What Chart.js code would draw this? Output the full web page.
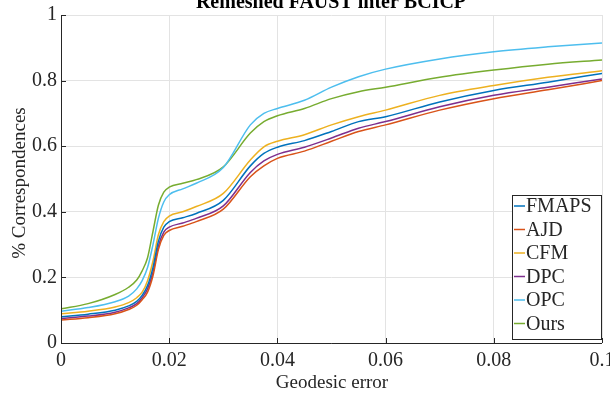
<!DOCTYPE html>
<html>
<head>
<meta charset="utf-8">
<script src="https://cdn.jsdelivr.net/npm/chart.js@4.4.1/dist/chart.umd.min.js"></script>
<style>
  body { margin: 0; background: #fff; }
  canvas { display: block; }
</style>
</head>
<body>
<canvas id="corrChart" width="610" height="394"></canvas>
<script>
const xValues = [0, 0.005, 0.01, 0.0125, 0.014, 0.015, 0.016, 0.017, 0.018, 0.019, 0.02, 0.0225, 0.025, 0.03, 0.035, 0.0375, 0.04, 0.045, 0.05, 0.055, 0.06, 0.07, 0.08, 0.09, 0.1];
const fmaps = [0.08, 0.088, 0.1, 0.113, 0.127, 0.145, 0.175, 0.23, 0.31, 0.353, 0.37, 0.382, 0.395, 0.435, 0.54, 0.578, 0.597, 0.617, 0.645, 0.675, 0.69, 0.735, 0.77, 0.795, 0.822];
const ajd = [0.07, 0.077, 0.089, 0.102, 0.115, 0.132, 0.155, 0.205, 0.285, 0.328, 0.343, 0.356, 0.37, 0.408, 0.507, 0.54, 0.563, 0.585, 0.615, 0.645, 0.665, 0.71, 0.745, 0.772, 0.8];
const cfm = [0.089, 0.097, 0.11, 0.123, 0.138, 0.155, 0.19, 0.25, 0.33, 0.37, 0.387, 0.4, 0.416, 0.456, 0.558, 0.598, 0.615, 0.635, 0.665, 0.69, 0.71, 0.755, 0.785, 0.81, 0.83];
const dpc = [0.075, 0.082, 0.094, 0.107, 0.12, 0.138, 0.165, 0.215, 0.295, 0.338, 0.353, 0.366, 0.38, 0.418, 0.52, 0.555, 0.575, 0.597, 0.625, 0.655, 0.675, 0.72, 0.755, 0.78, 0.805];
const opc = [0.097, 0.108, 0.126, 0.143, 0.165, 0.19, 0.23, 0.3, 0.38, 0.43, 0.452, 0.47, 0.487, 0.535, 0.665, 0.7, 0.715, 0.74, 0.78, 0.812, 0.835, 0.866, 0.888, 0.903, 0.915];
const ours = [0.104, 0.12, 0.148, 0.17, 0.192, 0.22, 0.26, 0.34, 0.42, 0.46, 0.475, 0.487, 0.498, 0.537, 0.64, 0.675, 0.693, 0.715, 0.745, 0.766, 0.78, 0.81, 0.832, 0.85, 0.863];

const seriesNames = ["FMAPS", "AJD", "CFM", "DPC", "OPC", "Ours"];
const seriesValues = [fmaps, ajd, cfm, dpc, opc, ours];
const seriesColors = ["#0072BD", "#D95319", "#EDB120", "#7E2F8E", "#4DBEEE", "#77AC30"];

const serif = "'Liberation Serif', 'Times New Roman', serif";
const ink = "#262626";

// title, axis titles, inward ticks and the boxed legend
const decorations = {
  id: "decorations",
  afterDraw(chart) {
    const c = chart.ctx;
    const area = chart.chartArea;
    const xs = chart.scales.x, ys = chart.scales.y;
    c.save();

    c.strokeStyle = ink;
    c.lineWidth = 1;
    c.beginPath();
    c.moveTo(area.left + 0.5, area.top);
    c.lineTo(area.left + 0.5, area.bottom + 0.5);
    c.lineTo(area.right, area.bottom + 0.5);
    xs.ticks.forEach(t => {
      const px = Math.round(xs.getPixelForValue(t.value)) + 0.5;
      c.moveTo(px, area.bottom);
      c.lineTo(px, area.bottom - 5);
    });
    ys.ticks.forEach(t => {
      const py = Math.round(ys.getPixelForValue(t.value)) + 0.5;
      c.moveTo(area.left, py);
      c.lineTo(area.left + 5, py);
    });
    c.stroke();

    c.fillStyle = "#000";
    c.font = "bold 20px " + serif;
    c.textAlign = "center";
    c.textBaseline = "alphabetic";
    c.fillText("Remeshed FAUST inter BCICP", 331, 8);

    c.fillStyle = ink;
    c.font = "19px " + serif;
    c.fillText("Geodesic error", 332, 388);

    c.save();
    c.translate(20, 183);
    c.rotate(-Math.PI / 2);
    c.textBaseline = "middle";
    c.fillText("% Correspondences", 0, 0);
    c.restore();

    // legend
    const bx = 512, by = 195, bw = 89, bh = 144;
    c.fillStyle = "#fff";
    c.fillRect(bx, by, bw, bh);
    c.strokeStyle = ink;
    c.lineWidth = 1;
    c.strokeRect(bx + 0.5, by + 0.5, bw, bh);
    c.textAlign = "left";
    c.textBaseline = "middle";
    c.font = "20px " + serif;
    chart.data.datasets.forEach((ds, i) => {
      const ly = by + 11 + i * 23.5;
      c.strokeStyle = ds.borderColor;
      c.lineWidth = 1.5;
      c.beginPath();
      c.moveTo(bx + 2, ly);
      c.lineTo(bx + 13, ly);
      c.stroke();
      c.fillStyle = ink;
      c.fillText(ds.label, bx + 14, ly + 1);
    });
    c.restore();
  }
};

new Chart(document.getElementById("corrChart"), {
  type: "line",
  data: {
    datasets: seriesNames.map((name, i) => ({
      label: name,
      data: xValues.map((x, j) => ({ x: x, y: seriesValues[i][j] })),
      borderColor: seriesColors[i],
      backgroundColor: seriesColors[i],
      borderWidth: 1.5,
      pointRadius: 0,
      cubicInterpolationMode: "monotone",
      fill: false
    }))
  },
  options: {
    responsive: false,
    animation: false,
    layout: { padding: { top: 15, right: 8, left: 0, bottom: 0 } },
    plugins: { legend: { display: false }, title: { display: false }, tooltip: { enabled: false } },
    scales: {
      x: {
        type: "linear",
        min: 0,
        max: 0.1,
        border: { display: false },
        grid: { color: "#e3e3e3", drawTicks: false },
        ticks: {
          stepSize: 0.02,
          padding: 6,
          maxRotation: 0,
          color: ink,
          font: { family: serif, size: 20 },
          callback: v => String(Number(v.toFixed(2)))
        },
        afterFit(s) { s.height = 51; s.paddingLeft = 0; s.paddingRight = 0; }
      },
      y: {
        min: 0,
        max: 1,
        border: { display: false },
        grid: { color: "#e3e3e3", drawTicks: false },
        ticks: {
          stepSize: 0.2,
          padding: 4,
          color: ink,
          font: { family: serif, size: 20 },
          callback: v => String(Number(v.toFixed(1)))
        },
        afterFit(s) { s.width = 61; s.paddingTop = 0; s.paddingBottom = 0; }
      }
    }
  },
  plugins: [decorations]
});
</script>
</body>
</html>
